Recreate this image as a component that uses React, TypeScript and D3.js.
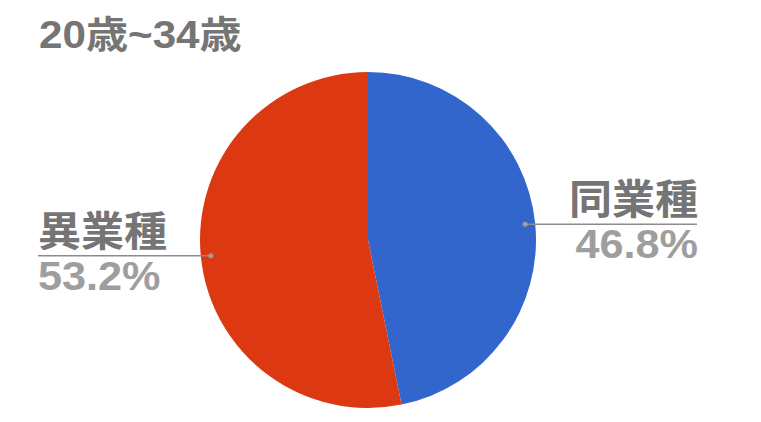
import React from "react";
import * as d3 from "d3";

const title = "20歳~34歳";
const categories = ["同業種", "異業種"];
const values = [46.8, 53.2];
const colors = ["#3366cc", "#dc3912"];

const W = 761;
const H = 422;
const cx = 368;
const cy = 240;
const R = 168;
const FONT = "'Liberation Sans', Arial, 'Noto Sans CJK JP', sans-serif";

export default function App() {
  const pie = d3.pie<number>().sort(null).value((d) => d)(values);
  const arc = d3.arc<d3.PieArcDatum<number>>().innerRadius(0).outerRadius(R);
  const total = d3.sum(values);

  return (
    <div style={{ position: "absolute", left: 0, top: 0 }}>
      <svg width={W} height={H} style={{ display: "block", background: "#fff" }}>
        <g transform="translate(39,48) scale(1.11,1)">
          <text x={0} y={0} fontFamily={FONT} fontWeight="bold" fontSize={38} fill="#757575">
            {title}
          </text>
        </g>
        <g transform={`translate(${cx},${cy})`}>
          {pie.map((p, i) => (
            <path key={i} d={arc(p) || ""} fill={colors[i]} stroke="none" />
          ))}
        </g>
        {pie.map((p, i) => {
          const mid = (p.startAngle + p.endAngle) / 2;
          const r = R * 0.94;
          const px = cx + r * Math.sin(mid);
          const py = cy - r * Math.cos(mid);
          const right = Math.sin(mid) > 0;
          const lineEnd = right ? 697 : 38;
          const anchor = right ? "end" : "start";
          const tx = right ? 698 : 38;
          const pct = ((values[i] / total) * 100).toFixed(1) + "%";
          return (
            <g key={"l" + i}>
              <line x1={px} y1={py} x2={lineEnd} y2={py} stroke="#8c8c8c" strokeWidth={1.5} />
              <circle cx={px} cy={py} r={2.5} fill="#9e9e9e" />
              <g transform={`translate(${tx},${py - 10}) scale(1.05,1)`}>
                <text x={0} y={0} textAnchor={anchor} fontFamily={FONT} fontWeight="bold" fontSize={41} fill="#757575">
                  {categories[i]}
                </text>
              </g>
              <g transform={`translate(${tx},${py + 34}) scale(1.08,1)`}>
                <text x={0} y={0} textAnchor={anchor} fontFamily={FONT} fontWeight="bold" fontSize={40} fill="#9e9e9e">
                  {pct}
                </text>
              </g>
            </g>
          );
        })}
      </svg>
    </div>
  );
}
